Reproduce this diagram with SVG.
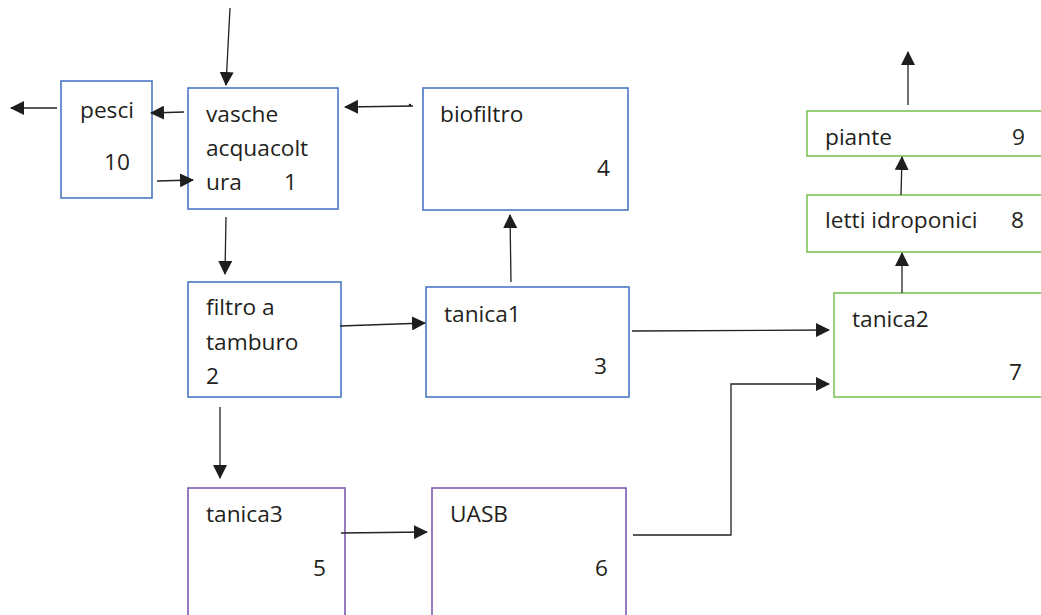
<svg xmlns="http://www.w3.org/2000/svg" width="1041" height="615" viewBox="0 0 1041 615">
<defs>
<marker id="ah" markerUnits="userSpaceOnUse" markerWidth="14" markerHeight="14" viewBox="0 0 14 14" refX="13" refY="7" orient="auto">
<path d="M0,0 L14,7 L0,14 Z" fill="#1e1e1e"/>
</marker>
<style>
.blue{fill:#fff;stroke:#4a76c4;stroke-width:1.6}
.green{fill:#fff;stroke:#7dc35b;stroke-width:1.6}
.purple{fill:#fff;stroke:#7e5bb0;stroke-width:1.6}
text{font-family:"Open Sans","Liberation Sans",sans-serif;font-size:22.7px;fill:#231f20}
.c{fill:none;stroke:#222;stroke-width:1.3;marker-end:url(#ah)}
</style>
</defs>
<rect width="1041" height="615" fill="#fff"/>
<g id="pesci"><rect class="blue" x="61" y="81" width="91" height="117"/><text x="80" y="118">pesci</text><text x="104" y="170">10</text></g>
<g id="vasche"><rect class="blue" x="188" y="88" width="150" height="121"/><text x="206" y="122">vasche</text><text x="206" y="156">acquacolt</text><text x="206" y="190">ura</text><text x="284" y="190">1</text></g>
<g id="biofiltro"><rect class="blue" x="423" y="88" width="205" height="122"/><text x="440" y="122">biofiltro</text><text x="597" y="176">4</text></g>
<g id="filtro"><rect class="blue" x="188" y="282" width="153" height="115"/><text x="206" y="315">filtro a</text><text x="206" y="350">tamburo</text><text x="206" y="384">2</text></g>
<g id="tanica1"><rect class="blue" x="426" y="287" width="203" height="110"/><text x="444" y="322">tanica1</text><text x="594" y="374">3</text></g>
<g id="tanica3"><rect class="purple" x="188" y="488" width="157" height="140"/><text x="206" y="522">tanica3</text><text x="313" y="576">5</text></g>
<g id="uasb"><rect class="purple" x="432" y="488" width="194" height="140"/><text x="450" y="522">UASB</text><text x="595" y="576">6</text></g>
<g id="tanica2"><rect class="green" x="834" y="293" width="220" height="104"/><text x="852" y="327">tanica2</text><text x="1009" y="380">7</text></g>
<g id="letti"><rect class="green" x="807" y="195" width="247" height="57"/><text x="825" y="228">letti idroponici</text><text x="1011" y="228">8</text></g>
<g id="piante"><rect class="green" x="807" y="111" width="247" height="45"/><text x="825" y="145">piante</text><text x="1012" y="145">9</text></g>
<g id="connectors">
<line class="c" x1="230" y1="8" x2="226" y2="85"/>
<line class="c" x1="184" y1="112" x2="151" y2="113"/>
<line class="c" x1="57" y1="108" x2="11" y2="108"/>
<line class="c" x1="157" y1="181" x2="193" y2="180"/>
<line class="c" x1="413" y1="106" x2="345" y2="107"/>
<circle cx="410" cy="105" r="1.3" fill="#222"/>
<line class="c" x1="226" y1="217" x2="225" y2="274"/>
<line class="c" x1="511" y1="282" x2="510" y2="215"/>
<line class="c" x1="340" y1="326" x2="425" y2="323"/>
<line class="c" x1="632" y1="331" x2="829" y2="330"/>
<polyline class="c" points="633,535 731,535 731,384 829,384"/>
<line class="c" x1="220" y1="407" x2="220" y2="478"/>
<line class="c" x1="341" y1="533" x2="427" y2="532"/>
<line class="c" x1="902" y1="293" x2="902" y2="253"/>
<line class="c" x1="901" y1="195" x2="902" y2="157"/>
<line class="c" x1="908" y1="105" x2="908" y2="52"/>
</g>
</svg>
